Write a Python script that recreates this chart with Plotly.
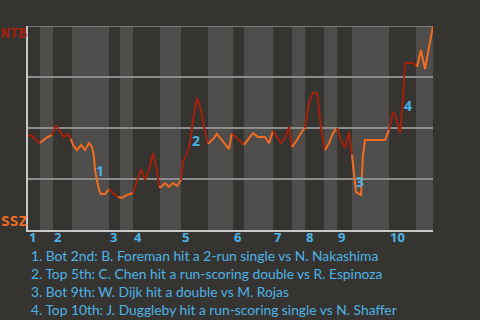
import plotly.graph_objects as go

# half-inning boundaries (play index units)
half_bounds = [0, 3, 6.25, 11, 20.25, 23, 26.25, 33, 38.25, 45, 51.25, 54, 61.25, 66,
               69.25, 74, 77.25, 81, 90.25, 97, 101.25]
innings = ["1", "2", "3", "4", "5", "6", "7", "8", "9", "10"]

# win probability (NTB) per half-inning: x positions and values
halves_x = [
    [0, 1, 2, 3],
    [3.5, 4.5, 6],
    [7, 7.75, 9, 10, 10.75],
    [11.25, 12.25, 13.25, 14.25, 15.25, 16, 16.5, 16.75, 17.25, 17.75, 18.25, 19.25, 20.25],
    [21.25, 22.5],
    [23.5, 24.75, 26.25],
    [27, 28.25, 29.25, 30.25, 31.25, 32.25, 32.75],
    [33.25, 34.25, 35.25, 36.25, 37.25, 38.25],
    [38.75, 39.75, 40.5, 41.25, 42.25, 43.25, 44, 45],
    [45.25, 46.25, 47.25, 48.5, 49.5, 50.25, 51],
    [52.25, 53.25, 54],
    [55, 56.25, 57.5, 59.25, 60.25, 61.25],
    [62.25, 63.25, 64.25, 65.25, 66],
    [67.25, 68.25, 69.25],
    [70.25, 71.25, 72.25, 73.25, 74.25],
    [75.25, 76.25, 77.25],
    [78.25, 79.25, 80.25, 81],
    [81.5, 82, 83.25, 83.75, 84.25, 89.25, 90.25],
    [91.25, 92, 93, 93.75, 94.25, 96.25, 97.25],
    [98.25, 98.75, 99.25, 100, 100.5, 101.25],
]
halves_wp = [
    [0.466, 0.461, 0.441, 0.426],
    [0.436, 0.451, 0.466],
    [0.515, 0.490, 0.456, 0.471, 0.446],
    [0.417, 0.392, 0.417, 0.392, 0.426, 0.407, 0.358, 0.294, 0.235, 0.196, 0.176, 0.176, 0.201],
    [0.181, 0.162],
    [0.157, 0.172, 0.181],
    [0.230, 0.299, 0.245, 0.294, 0.377, 0.294, 0.211],
    [0.211, 0.230, 0.211, 0.230, 0.216, 0.245],
    [0.333, 0.377, 0.426, 0.539, 0.647, 0.588, 0.505, 0.422],
    [0.426, 0.446, 0.471, 0.441, 0.417, 0.397, 0.475],
    [0.451, 0.431, 0.417],
    [0.441, 0.475, 0.456, 0.456, 0.426, 0.485],
    [0.456, 0.426, 0.451, 0.505, 0.407],
    [0.441, 0.475, 0.500],
    [0.627, 0.672, 0.672, 0.500, 0.392],
    [0.426, 0.475, 0.500],
    [0.441, 0.402, 0.480, 0.368],
    [0.279, 0.186, 0.172, 0.368, 0.441, 0.441, 0.490],
    [0.578, 0.554, 0.475, 0.637, 0.819, 0.819, 0.799],
    [0.882, 0.833, 0.789, 0.868, 0.917, 1.0],
]

event_nums = ["1", "2", "3", "4"]
event_x = [18, 42.1, 83, 95.1]
event_y = [0.294, 0.441, 0.240, 0.610]
event_text = [
    "1. Bot 2nd: B. Foreman hit a 2-run single vs N. Nakashima",
    "2. Top 5th: C. Chen hit a run-scoring double vs R. Espinoza",
    "3. Bot 9th: W. Dijk hit a double vs M. Rojas",
    "4. Top 10th: J. Duggleby hit a run-scoring single vs N. Shaffer",
]
team_top = "NTB"
team_bottom = "SSZ"

BG = "#363431"
BAND = "#4e4d4b"
RED = "#a3200d"
ORANGE = "#f26c21"
BLUE = "#4db3e6"
W, H = 480, 320
L, T, R, B = 28, 26, 47, 90
PW, PH = W - L - R, H - T - B


def py(pix):
    return (H - B - pix) / PH


def px(pix):
    return (pix - L) / PW


fig = go.Figure()
prev = None
for i, (xs, ys) in enumerate(zip(halves_x, halves_wp)):
    if prev is not None:
        xs = [prev[0]] + xs
        ys = [prev[1]] + ys
    fig.add_trace(go.Scatter(x=xs, y=ys, mode="lines",
                             line=dict(color=RED if i % 2 == 0 else ORANGE, width=2),
                             hoverinfo="skip", showlegend=False))
    prev = (xs[-1], ys[-1])

shapes = []
for i in range(len(half_bounds) - 1):
    if i % 2 == 1:
        shapes.append(dict(type="rect", xref="x", yref="paper", x0=half_bounds[i],
                           x1=half_bounds[i + 1], y0=0, y1=1, fillcolor=BAND,
                           line=dict(width=0), layer="below"))
shapes.append(dict(type="line", xref="paper", yref="y", x0=0, x1=1, y0=1, y1=1,
                   line=dict(color="#8c8c8c", width=1.5), layer="below"))

ann = []
for k, inn in enumerate(innings):
    ann.append(dict(x=half_bounds[2 * k], y=py(237), xref="x", yref="paper",
                    text="<b>" + inn + "</b>", showarrow=False, xanchor="left",
                    yanchor="middle", borderpad=0,
                    font=dict(family="Open Sans", size=13, color=BLUE)))
for n, x, y in zip(event_nums, event_x, event_y):
    ann.append(dict(x=x, y=y, text="<b>" + n + "</b>", showarrow=False,
                    xanchor="center", yanchor="middle", borderpad=0,
                    font=dict(family="Open Sans", size=14, color=BLUE)))
for j, t in enumerate(event_text):
    ann.append(dict(x=px(30), y=py(255 + 18 * j), xref="paper", yref="paper", text=t,
                    showarrow=False, xanchor="left", yanchor="middle", borderpad=0,
                    font=dict(family="Lato", size=13.8, color=BLUE)))
ann.append(dict(x=px(14), y=py(33), xref="paper", yref="paper", text="<b>" + team_top + "</b>",
                showarrow=False, xanchor="center", yanchor="middle", borderpad=0,
                font=dict(family="DejaVu Sans Mono", size=14.5, color=RED)))
ann.append(dict(x=px(13.5), y=py(221), xref="paper", yref="paper", text="<b>" + team_bottom + "</b>",
                showarrow=False, xanchor="center", yanchor="middle", borderpad=0,
                font=dict(family="DejaVu Sans Mono", size=14.5, color=ORANGE)))

fig.update_layout(
    width=W, height=H, margin=dict(l=L, r=R, t=T, b=B),
    paper_bgcolor=BG, plot_bgcolor=BG, shapes=shapes, annotations=ann,
    xaxis=dict(range=[0, 101.25], showgrid=False, zeroline=False, showticklabels=False,
               showline=True, linecolor="#c8c8c8", linewidth=2, ticks=""),
    yaxis=dict(range=[0, 1], tickvals=[0.25, 0.5, 0.75, 1], showticklabels=False,
               gridcolor="#8c8c8c", gridwidth=1.5, zeroline=False, showline=True,
               linecolor="#c8c8c8", linewidth=2, ticks=""),
)
fig.write_html("out.html")
